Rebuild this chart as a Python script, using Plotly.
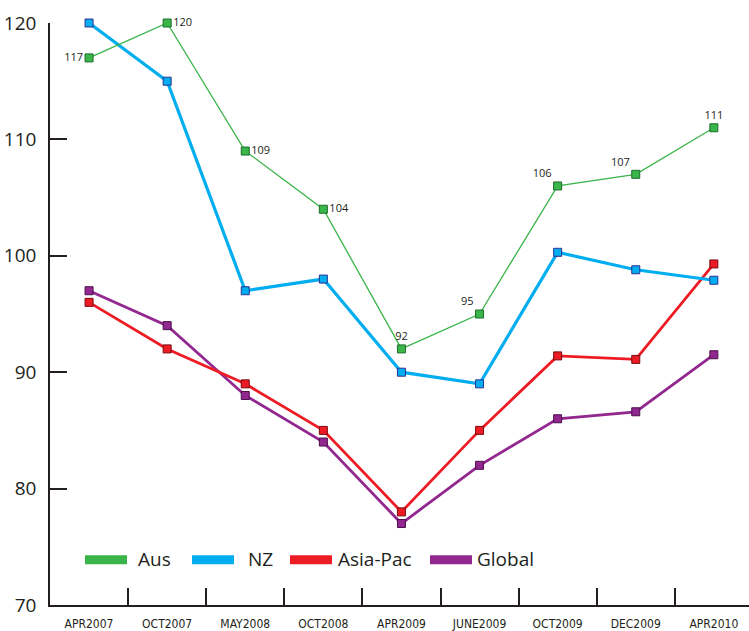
import plotly.graph_objects as go

# Survey periods and index values per region
periods = ["APR2007", "OCT2007", "MAY2008", "OCT2008", "APR2009",
           "JUNE2009", "OCT2009", "DEC2009", "APR2010"]
aus = [117, 120, 109, 104, 92, 95, 106, 107, 111]
nz = [120, 115, 97, 98, 90, 89, 100.3, 98.8, 97.9]
asia_pac = [96, 92, 89, 85, 78, 85, 91.4, 91.1, 99.3]
global_ = [97, 94, 88, 84, 77, 82, 86, 86.6, 91.5]
y_ticks = [70, 80, 90, 100, 110, 120]

# Where each Aus value label sits relative to its marker
aus_label_pos = ["middle left", "middle right", "middle right", "middle right",
                 "top center", "top left", "top left", "top left", "top center"]

INK = "#231f20"
W, H = 749, 631
ML, MR, MT, MB = 50, 0, 23, 22

series = [
    ("Aus", aus, "#39b54a", "#1d6b2c", 1.3),
    ("NZ", nz, "#00aeef", "#2e3192", 3.2),
    ("Asia-Pac", asia_pac, "#ed1c24", "#7a0a10", 2.8),
    ("Global", global_, "#92278f", "#4a0f4a", 2.8),
]

fig = go.Figure()
for name, vals, col, edge, lw in reversed(series):
    is_aus = name == "Aus"
    fig.add_trace(go.Scatter(
        x=periods, y=vals, name=name,
        mode="lines+markers+text" if is_aus else "lines+markers",
        line=dict(color=col, width=lw),
        marker=dict(symbol="square", size=8, color=col,
                    line=dict(color=edge, width=1)),
        text=[f"{v:g}" for v in vals] if is_aus else None,
        textposition=aus_label_pos if is_aus else None,
        textfont=dict(family="Open Sans, sans-serif", size=11, color=INK),
        cliponaxis=False,
        showlegend=False,
    ))

# Legend drawn as swatches + labels along the bottom
pw = W - ML - MR
ph = H - MT - MB


def px_x(px):
    return (px - ML) / pw


def px_y(py):
    return (H - MB - py) / ph


legend_items = [("Aus", 85, 138), ("NZ", 192, 248),
                ("Asia-Pac", 290, 338), ("Global", 430, 477)]
colors = {s[0]: s[2] for s in series}
for name, sx, tx in legend_items:
    fig.add_shape(type="rect", xref="paper", yref="paper",
                  x0=px_x(sx), x1=px_x(sx + 42), y0=px_y(568), y1=px_y(559),
                  fillcolor=colors[name], line=dict(width=0), layer="above")
    fig.add_annotation(xref="paper", yref="paper", x=px_x(tx - 2), y=px_y(563),
                       text=name, showarrow=False, xanchor="left",
                       yanchor="middle",
                       font=dict(family="Open Sans, sans-serif", size=19,
                                 color=INK))

fig.update_xaxes(
    type="category", range=[-0.5, 8.45],
    showline=True, linecolor=INK, linewidth=1.5,
    ticks="inside", tickson="boundaries", ticklen=17, tickwidth=1.5,
    tickcolor=INK, showgrid=False, zeroline=False,
    ticklabelstandoff=7,
    tickfont=dict(family="Liberation Sans Narrow, DejaVu Sans Condensed, sans-serif",
                  size=12, color=INK),
)
fig.update_yaxes(
    range=[70, 120], tickvals=y_ticks,
    showline=True, linecolor=INK, linewidth=1.5,
    ticks="inside", ticklen=17, tickwidth=1.5, tickcolor=INK,
    showgrid=False, zeroline=False,
    ticklabelstandoff=8,
    tickfont=dict(family="Open Sans, sans-serif", size=19, color=INK),
)
fig.update_layout(
    width=W, height=H,
    margin=dict(l=ML, r=MR, t=MT, b=MB),
    plot_bgcolor="white", paper_bgcolor="white",
    showlegend=False,
)

fig.write_html("out.html")
